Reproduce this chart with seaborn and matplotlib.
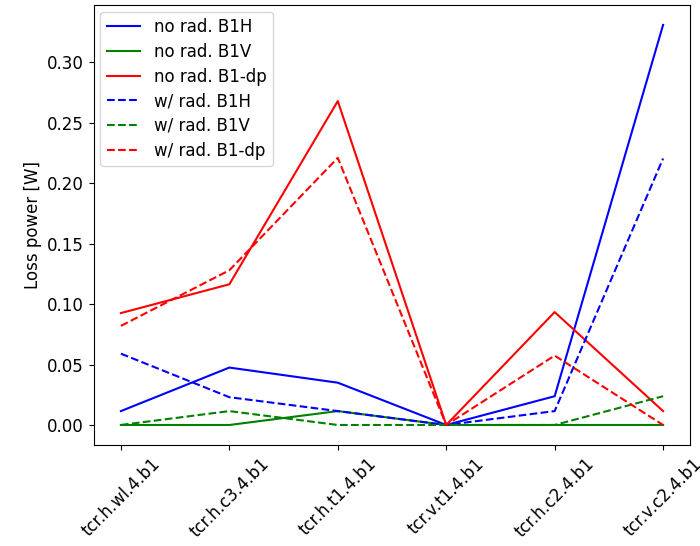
import matplotlib
matplotlib.use("Agg")
import matplotlib.pyplot as plt
import seaborn as sns
import pandas as pd

categories = ["tcr.h.wl.4.b1", "tcr.h.c3.4.b1", "tcr.h.t1.4.b1",
              "tcr.v.t1.4.b1", "tcr.h.c2.4.b1", "tcr.v.c2.4.b1"]

norad_B1H = [0.0115, 0.0475, 0.035, 0.0, 0.0238, 0.331]
norad_B1V = [0.0, 0.0, 0.0115, 0.0, 0.0, 0.0]
norad_B1dp = [0.0926, 0.1164, 0.268, 0.0, 0.0934, 0.0115]
wrad_B1H = [0.059, 0.023, 0.0115, 0.0, 0.0115, 0.2205]
wrad_B1V = [0.0, 0.0115, 0.0, 0.0, 0.0, 0.0238]
wrad_B1dp = [0.082, 0.128, 0.221, 0.0, 0.0574, 0.0]

series = [
    ("no rad. B1H", norad_B1H, "blue", "-"),
    ("no rad. B1V", norad_B1V, "green", "-"),
    ("no rad. B1-dp", norad_B1dp, "red", "-"),
    ("w/ rad. B1H", wrad_B1H, "blue", "--"),
    ("w/ rad. B1V", wrad_B1V, "green", "--"),
    ("w/ rad. B1-dp", wrad_B1dp, "red", "--"),
]

plt.rcParams["font.size"] = 12

fig, ax = plt.subplots(figsize=(7, 5.46), dpi=100)
xpos = list(range(len(categories)))
for label, vals, color, ls in series:
    df = pd.DataFrame({"x": xpos, "y": vals})
    sns.lineplot(data=df, x="x", y="y", ax=ax, color=color, linestyle=ls,
                 label=label, linewidth=1.5)

ax.set_xticks(xpos)
ax.set_xticklabels(categories, rotation=45)
ax.set_xlabel("")
ax.set_ylabel("Loss power [W]")
ax.legend(loc="upper left", labelspacing=0.4, borderaxespad=0.4)
fig.subplots_adjust(left=0.134, right=0.986, top=0.991, bottom=0.185)
fig.savefig("out.png", dpi=100)
